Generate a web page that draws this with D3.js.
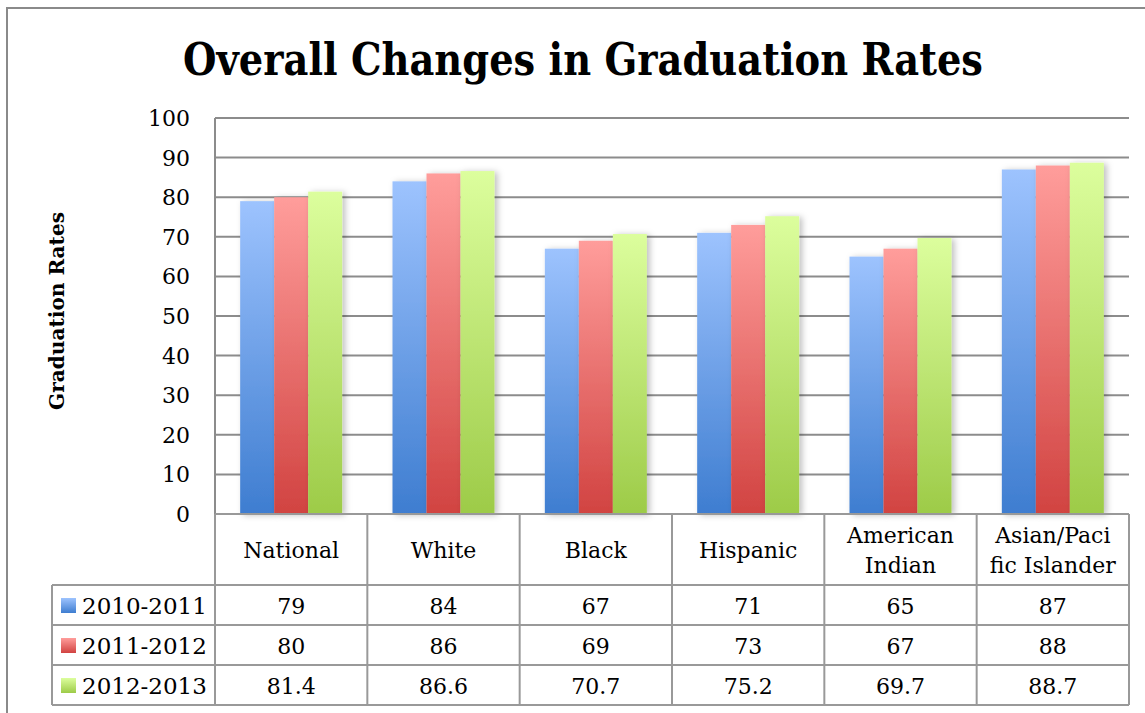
<!DOCTYPE html>
<html>
<head>
<meta charset="utf-8">
<script src="https://cdn.jsdelivr.net/npm/d3@7"></script>
<style>
  body { margin: 0; background: #fff; }
  text { font-family: "DejaVu Serif", serif; fill: #000; }
</style>
</head>
<body>
<div id="chart"></div>
<script>
// chart values
var categories = ["National", "White", "Black", "Hispanic", "American Indian", "Asian/Pacific Islander"];
var categoryLines = [["National"], ["White"], ["Black"], ["Hispanic"], ["American", "Indian"], ["Asian/Paci", "fic Islander"]];
var seriesNames = ["2010-2011", "2011-2012", "2012-2013"];
var values2011 = [79, 84, 67, 71, 65, 87];
var values2012 = [80, 86, 69, 73, 67, 88];
var values2013 = [81.4, 86.6, 70.7, 75.2, 69.7, 88.7];
var yTicks = [0, 10, 20, 30, 40, 50, 60, 70, 80, 90, 100];

var seriesValues = [values2011, values2012, values2013];
var gradients = [
  { top: "#9dc3fe", bottom: "#3e7dd0" },
  { top: "#ff9d9b", bottom: "#d14341" },
  { top: "#dcfe9d", bottom: "#9dcb48" }
];

var width = 1145, height = 713;
var plot = { left: 215, right: 1129, top: 118, bottom: 514 };
var rowH = 40, headerH = 71, legendLeft = 52;

var svg = d3.select("#chart").append("svg")
  .attr("width", width)
  .attr("height", height);

var defs = svg.append("defs");
gradients.forEach(function(g, i) {
  var lg = defs.append("linearGradient")
    .attr("id", "grad" + i)
    .attr("x1", 0).attr("y1", 0).attr("x2", 0).attr("y2", 1);
  lg.append("stop").attr("offset", "0%").attr("stop-color", g.top);
  lg.append("stop").attr("offset", "100%").attr("stop-color", g.bottom);
});
// soft shadow under the bars
var f = defs.append("filter").attr("id", "shadow")
  .attr("x", "-20%").attr("y", "-10%").attr("width", "150%").attr("height", "120%");
f.append("feDropShadow")
  .attr("dx", 3).attr("dy", 1).attr("stdDeviation", 3)
  .attr("flood-color", "#000").attr("flood-opacity", 0.25);

// outer frame
svg.append("rect")
  .attr("x", 7).attr("y", 8)
  .attr("width", width + 20).attr("height", height + 20)
  .attr("fill", "none").attr("stroke", "#8a8a8a").attr("stroke-width", 2);

// title
svg.append("text")
  .attr("x", 583).attr("y", 75)
  .attr("text-anchor", "middle")
  .attr("font-size", 45)
  .attr("font-weight", "bold")
  .attr("textLength", 800)
  .attr("lengthAdjust", "spacingAndGlyphs")
  .text("Overall Changes in Graduation Rates");

var x = d3.scaleBand()
  .domain(categories)
  .range([plot.left, plot.right]);

var y = d3.scaleLinear()
  .domain([0, 100])
  .range([plot.bottom, plot.top]);

var xs = d3.scaleBand()
  .domain(seriesNames)
  .range([0, x.bandwidth()])
  .paddingOuter(0.74);

// gridlines
svg.append("g")
  .selectAll("line")
  .data(yTicks)
  .enter()
  .append("line")
  .attr("x1", plot.left).attr("x2", plot.right)
  .attr("y1", function(d) { return y(d); })
  .attr("y2", function(d) { return y(d); })
  .attr("stroke", "#8c8c8c")
  .attr("stroke-width", 2);

svg.append("line")
  .attr("x1", plot.left).attr("x2", plot.left)
  .attr("y1", plot.top).attr("y2", plot.bottom)
  .attr("stroke", "#8c8c8c").attr("stroke-width", 2);

// y tick labels
svg.append("g")
  .selectAll("text")
  .data(yTicks)
  .enter()
  .append("text")
  .attr("x", 190)
  .attr("y", function(d) { return y(d) + 8; })
  .attr("text-anchor", "end")
  .attr("font-size", 22)
  .text(function(d) { return d; });

// y axis title
svg.append("text")
  .attr("transform", "translate(64,311) rotate(-90)")
  .attr("text-anchor", "middle")
  .attr("font-size", 20)
  .attr("font-weight", "bold")
  .attr("textLength", 198)
  .attr("lengthAdjust", "spacingAndGlyphs")
  .text("Graduation Rates");

// bars
seriesNames.forEach(function(s, si) {
  svg.append("g")
    .attr("filter", "url(#shadow)")
    .selectAll("rect")
    .data(seriesValues[si])
    .enter()
    .append("rect")
    .attr("x", function(d, i) { return x(categories[i]) + xs(s); })
    .attr("y", function(d) { return y(d); })
    .attr("width", xs.bandwidth())
    .attr("height", function(d) { return y(0) - y(d); })
    .attr("fill", "url(#grad" + si + ")");
});

// data table
var tableTop = plot.bottom;
var rowsTop = tableTop + headerH;
var tableBottom = rowsTop + rowH * seriesNames.length;
var grid = svg.append("g").attr("stroke", "#999").attr("stroke-width", 2);

// horizontal lines
grid.append("line")
  .attr("x1", plot.left).attr("x2", plot.right)
  .attr("y1", tableTop).attr("y2", tableTop);
d3.range(seriesNames.length + 1).forEach(function(r) {
  grid.append("line")
    .attr("x1", legendLeft).attr("x2", plot.right)
    .attr("y1", rowsTop + r * rowH).attr("y2", rowsTop + r * rowH);
});
// vertical lines
grid.append("line")
  .attr("x1", legendLeft).attr("x2", legendLeft)
  .attr("y1", rowsTop).attr("y2", tableBottom);
categories.concat(["end"]).forEach(function(c, i) {
  var xx = i < categories.length ? x(c) : plot.right;
  grid.append("line")
    .attr("x1", xx).attr("x2", xx)
    .attr("y1", tableTop).attr("y2", tableBottom);
});

// category headers
categories.forEach(function(c, i) {
  var lines = categoryLines[i];
  var cx = x(c) + x.bandwidth() / 2;
  var cy = tableTop + headerH / 2;
  lines.forEach(function(l, li) {
    svg.append("text")
      .attr("x", cx)
      .attr("y", cy + 8 + (li - (lines.length - 1) / 2) * 30)
      .attr("text-anchor", "middle")
      .attr("font-size", 22)
      .text(l);
  });
});

// legend rows and values
seriesNames.forEach(function(s, si) {
  var ry = rowsTop + si * rowH;
  svg.append("rect")
    .attr("x", 61).attr("y", ry + 13)
    .attr("width", 15).attr("height", 15)
    .attr("fill", "url(#grad" + si + ")");
  svg.append("text")
    .attr("x", 82).attr("y", ry + 29)
    .attr("font-size", 23)
    .text(s);
  seriesValues[si].forEach(function(v, i) {
    svg.append("text")
      .attr("x", x(categories[i]) + x.bandwidth() / 2)
      .attr("y", ry + 29)
      .attr("text-anchor", "middle")
      .attr("font-size", 22)
      .text(v);
  });
});
</script>
</body>
</html>
